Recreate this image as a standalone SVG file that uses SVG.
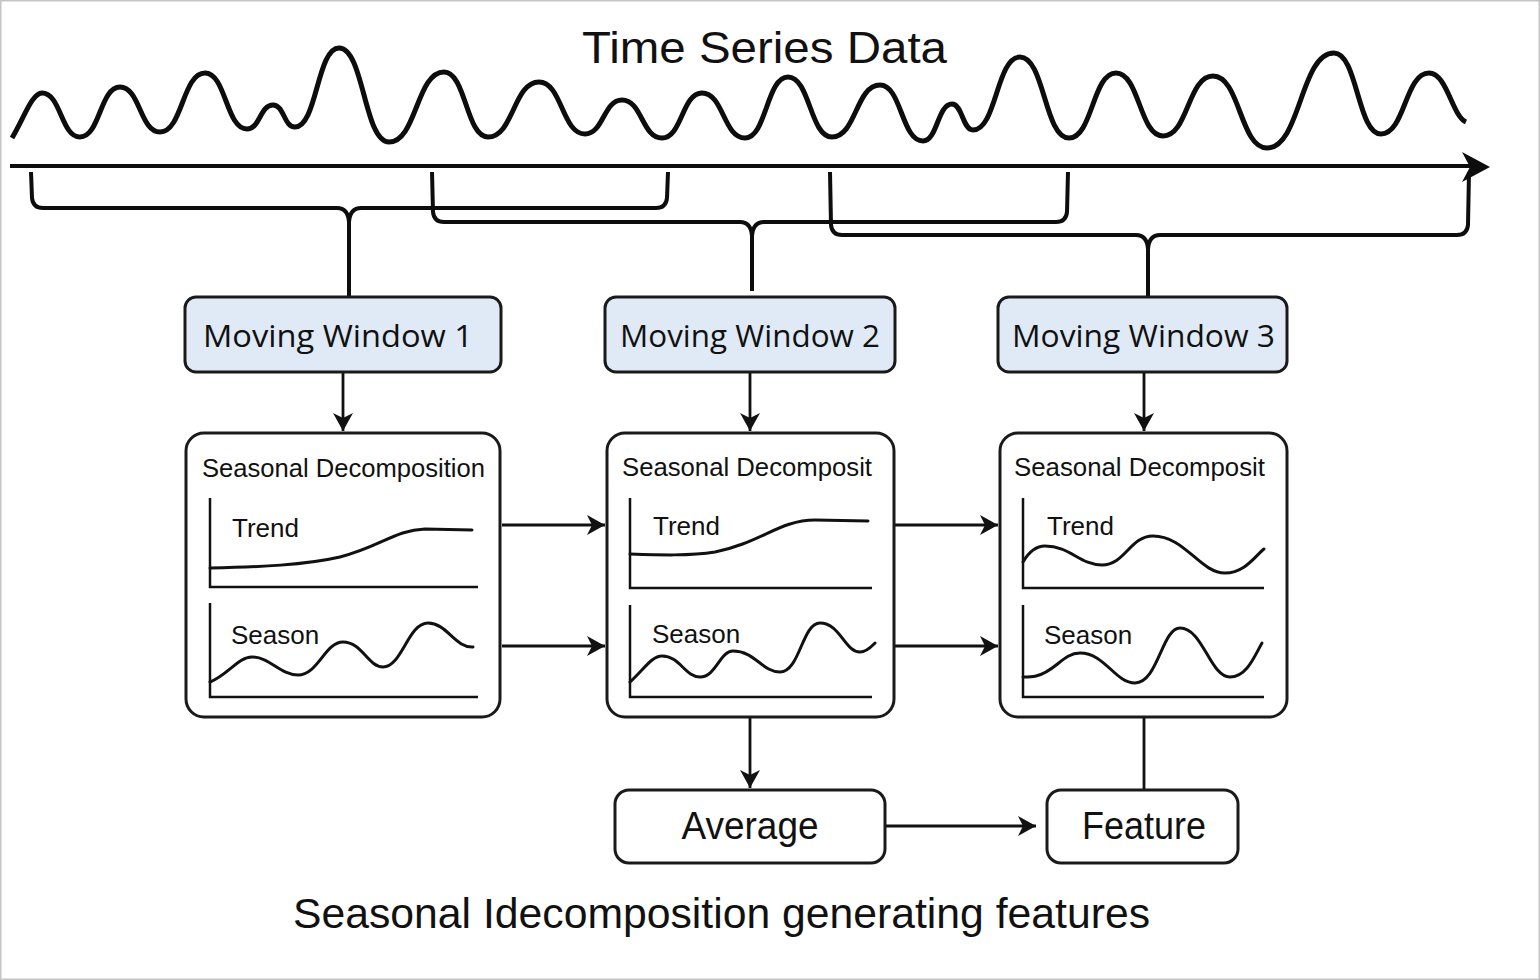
<svg xmlns="http://www.w3.org/2000/svg" width="1540" height="980" viewBox="0 0 1540 980">
<style>
.bg{fill:#fff;stroke:#c4c4c4;stroke-width:1.5}
.wave{fill:none;stroke:#0d0d0d;stroke-width:5;stroke-linejoin:round}
.brk{fill:none;stroke:#0d0d0d;stroke-width:4;stroke-linejoin:round}
.mw{fill:#dfeaf6;stroke:#1a1a1a;stroke-width:3}
.box{fill:#fff;stroke:#1a1a1a;stroke-width:3}
.axis{fill:none;stroke:#111;stroke-width:2.5}
.curve{fill:none;stroke:#111;stroke-width:3;stroke-linecap:round}
.arr{fill:none;stroke:#111;stroke-width:2.8;marker-end:url(#ah)}
.ln{fill:none;stroke:#111;stroke-width:2.8}
text{font-family:"Liberation Sans",Arial,sans-serif;fill:#111}
.t-title{font-size:45px}
.t-mw{font-family:"Open Sans","Liberation Sans",sans-serif;font-size:31px}
.t-dec{font-size:25px}
.t-lab{font-size:26px}
.t-node{font-size:38px}
.t-cap{font-size:43px}
</style>
<defs>
<marker id="ah" markerUnits="userSpaceOnUse" markerWidth="18" markerHeight="20" refX="18" refY="10" orient="auto">
<path d="M0,0 L18,10 L0,20 L5,10 z" fill="#111"/>
</marker>
</defs>
<rect class="bg" x="0.75" y="0.75" width="1538.5" height="978.5"/>

<g id="time-series">
<text class="t-title" x="582" y="63" textLength="365" lengthAdjust="spacingAndGlyphs">Time Series Data</text>
<path class="wave" d="M12,138 C24,118 32,93 42,93 C61,93 61,137 80,137 C100,137 100,87 120,87 C140,87 140,132 160,132 C182.5,132 182.5,73 205,73 C226,73 226,129 247,129 C260,129 260,105 273,105 C284,105 284,127 295,127 C317,127 317,48 339,48 C364,48 364,142 389,142 C416.5,142 416.5,72 444,72 C466,72 466,137 488,137 C513.5,137 513.5,82 539,82 C562,82 562,134 585,134 C603.5,134 603.5,100 622,100 C642,100 642,138 662,138 C682,138 682,93 702,93 C723.5,93 723.5,138 745,138 C766.5,138 766.5,77 788,77 C810,77 810,137 832,137 C856,137 856,85 880,85 C901.5,85 901.5,141 923,141 C937.5,141 937.5,104 952,104 C962.5,104 962.5,130 973,130 C996.5,130 996.5,57 1020,57 C1044.5,57 1044.5,138 1069,138 C1092.5,138 1092.5,73 1116,73 C1139.5,73 1139.5,136 1163,136 C1188,136 1188,76 1213,76 C1240,76 1240,148 1267,148 C1300.5,148 1300.5,53 1334,53 C1357.5,53 1357.5,134 1381,134 C1405,134 1405,73 1429,73 C1447,73 1452,116 1466,122"/>
<line x1="10" y1="166" x2="1472" y2="166" stroke="#0d0d0d" stroke-width="4"/>
<path d="M1462,152 L1490,167 L1462,182 L1470,167 z" fill="#0d0d0d"/>
</g>

<g id="connectors">
<path class="brk" d="M31,172 L32,198 Q33,208 43,208 L337,208 Q348,208 349,222 L349,297 M668,172 L667,198 Q666,208 656,208 L361,208 Q350,208 349,222"/>
<path class="brk" d="M432,172 L433,212 Q434,222 444,222 L740,222 Q751,222 752,236 L752,291 M1068,172 L1067,212 Q1066,222 1056,222 L764,222 Q753,222 752,236"/>
<path class="brk" d="M830,172 L831,225 Q832,235 842,235 L1136,235 Q1147,235 1148,249 L1148,296 M1469,172 L1468,225 Q1467,235 1457,235 L1160,235 Q1149,235 1148,249"/>
<path class="arr" d="M343,372 L343,431"/>
<path class="arr" d="M750,372 L750,431"/>
<path class="arr" d="M1144,372 L1144,431"/>
<path class="arr" d="M502,525 L605,525"/>
<path class="arr" d="M502,646 L605,646"/>
<path class="arr" d="M895,525 L998,525"/>
<path class="arr" d="M895,646 L998,646"/>
<path class="arr" d="M750,717 L750,788"/>
<path class="arr" d="M885,826 L1036,826"/>
<path class="ln" d="M1144,717 L1144,790"/>
</g>

<g id="mw1">
<rect class="mw" x="185" y="297" width="316" height="75" rx="11"/>
<text class="t-mw" x="203" y="347" textLength="270" lengthAdjust="spacingAndGlyphs">Moving Window 1</text>
</g>
<g id="mw2">
<rect class="mw" x="605" y="297" width="290" height="75" rx="11"/>
<text class="t-mw" x="620" y="347" textLength="260" lengthAdjust="spacingAndGlyphs">Moving Window 2</text>
</g>
<g id="mw3">
<rect class="mw" x="998" y="297" width="289" height="75" rx="11"/>
<text class="t-mw" x="1012" y="347" textLength="263" lengthAdjust="spacingAndGlyphs">Moving Window 3</text>
</g>

<g id="decomp1">
<rect class="box" x="186" y="433" width="314" height="284" rx="18"/>
<text class="t-dec" x="202" y="477" textLength="283" lengthAdjust="spacingAndGlyphs">Seasonal Decomposition</text>
<path class="axis" d="M210,498 L210,587 L478,587"/>
<text class="t-lab" x="232" y="537">Trend</text>
<path class="curve" d="M210,568 C260,567 305,565 340,557 C380,547 395,530 425,529 L472,530"/>
<path class="axis" d="M210,603 L210,697 L478,697"/>
<text class="t-lab" x="231" y="644">Season</text>
<path class="curve" d="M210,682 C228,675 238,657 252,657 C270,657 280,675 298,675 C318,675 325,642 343,642 C362,642 368,667 383,667 C402,667 408,623 428,623 C447,623 455,648 473,647"/>
</g>

<g id="decomp2">
<rect class="box" x="607" y="433" width="287" height="284" rx="18"/>
<text class="t-dec" x="622" y="476" textLength="250" lengthAdjust="spacingAndGlyphs">Seasonal Decomposit</text>
<path class="axis" d="M630,498 L630,588 L872,588"/>
<text class="t-lab" x="653" y="535">Trend</text>
<path class="curve" d="M630,554 C660,555 690,556 715,552 C760,543 780,520 815,520 L868,521"/>
<path class="axis" d="M630,605 L630,697 L872,697"/>
<text class="t-lab" x="652" y="643">Season</text>
<path class="curve" d="M630,682 C645,668 652,656 662,656 C680,656 685,677 700,677 C716,677 720,651 733,651 C755,651 762,672 780,672 C800,672 802,623 820,623 C840,623 845,652 860,652 C867,652 872,646 875,643"/>
</g>

<g id="decomp3">
<rect class="box" x="1000" y="433" width="287" height="284" rx="18"/>
<text class="t-dec" x="1014" y="476" textLength="251" lengthAdjust="spacingAndGlyphs">Seasonal Decomposit</text>
<path class="axis" d="M1023,498 L1023,588 L1264,588"/>
<text class="t-lab" x="1047" y="535">Trend</text>
<path class="curve" d="M1023,562 C1030,550 1037,546 1045,546 C1070,546 1080,565 1102,565 C1125,565 1130,536 1153,536 C1185,536 1200,573 1225,573 C1245,573 1255,556 1264,549"/>
<path class="axis" d="M1023,605 L1023,697 L1264,697"/>
<text class="t-lab" x="1044" y="644">Season</text>
<path class="curve" d="M1023,677 C1028,677 1032,677 1036,676 C1055,672 1063,653 1080,653 C1105,653 1115,683 1135,683 C1158,683 1162,628 1180,628 C1203,628 1210,677 1230,677 C1247,677 1255,655 1262,643"/>
</g>

<g id="average">
<rect class="box" x="615" y="790" width="270" height="73" rx="14"/>
<text class="t-node" x="750" y="839" text-anchor="middle" textLength="137" lengthAdjust="spacingAndGlyphs">Average</text>
</g>
<g id="feature">
<rect class="box" x="1047" y="790" width="191" height="73" rx="14"/>
<text class="t-node" x="1144" y="839" text-anchor="middle" textLength="124" lengthAdjust="spacingAndGlyphs">Feature</text>
</g>

<text class="t-cap" x="293" y="928" textLength="857" lengthAdjust="spacingAndGlyphs">Seasonal Idecomposition generating features</text>
</svg>
